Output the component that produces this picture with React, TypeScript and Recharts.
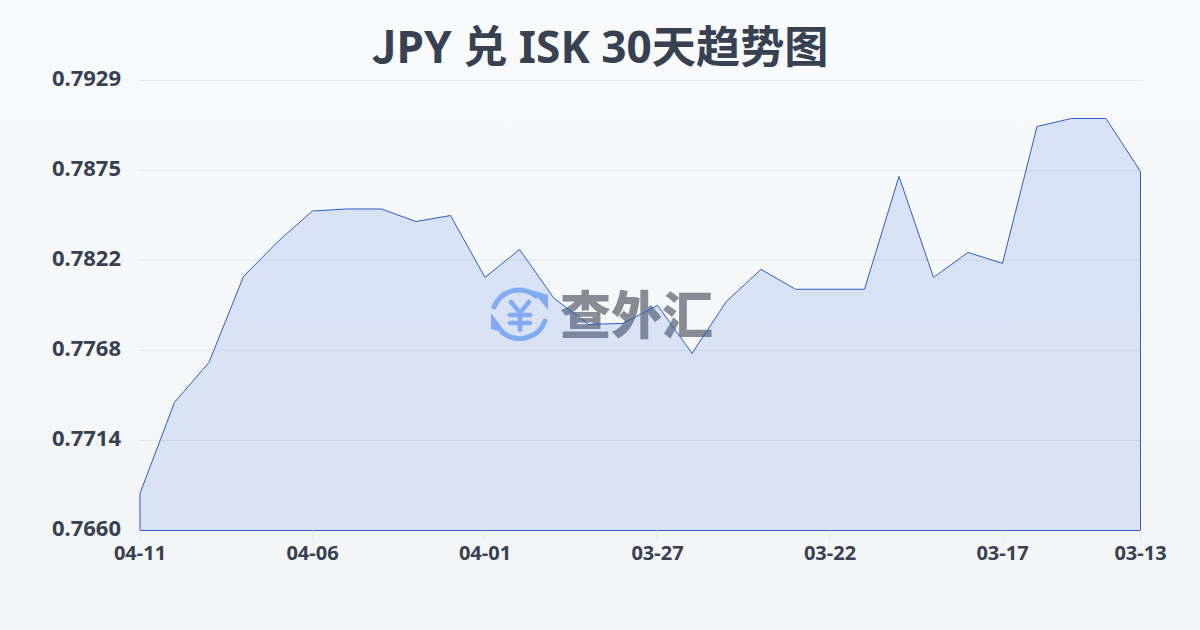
import { AreaChart, Area, XAxis, YAxis, CartesianGrid, ReferenceLine } from 'recharts';

const dates = [
  '04-11', '04-10', '04-09', '04-08', '04-07', '04-06', '04-05', '04-04', '04-03', '04-02',
  '04-01', '03-31', '03-30', '03-29', '03-28', '03-27', '03-26', '03-25', '03-24', '03-23',
  '03-22', '03-21', '03-20', '03-19', '03-18', '03-17', '03-16', '03-15', '03-14', '03-13',
];
const rates = [
  0.76822, 0.77366, 0.77605, 0.78119, 0.78328, 0.7851, 0.78522, 0.78522, 0.78447, 0.78483,
  0.78113, 0.7828, 0.77988, 0.77832, 0.77838, 0.77946, 0.77659, 0.77970, 0.78161, 0.78042,
  0.78042, 0.78042, 0.78717, 0.78113, 0.78262, 0.78197, 0.79015, 0.79063, 0.79063, 0.78746,
];
const xTicks = ['04-11', '04-06', '04-01', '03-27', '03-22', '03-17', '03-13'];
const yTicks = [0.766, 0.77138, 0.77676, 0.78216, 0.78752, 0.7929];

const data = dates.map((date, i) => ({ date, rate: rates[i] }));
const first = data[0];
const last = data[data.length - 1];
const lineColor = '#2b5fc7';

function Watermark() {
  return (
    <div style={{ position: 'absolute', left: 488, top: 283, width: 230, height: 64 }}>
      <svg width={64} height={64} style={{ position: 'absolute', left: 0, top: 0 }}>
        <g fill="none" stroke="#8fb6f5" strokeWidth={5} strokeLinecap="round">
          <path d="M6 24 A27 27 0 0 1 48 13" />
          <path d="M57 38 A27 27 0 0 1 14 49" />
          <path d="M23 19 L32 30 L41 19 M32 30 V47 M22 32 H42 M22 40 H42" strokeWidth={4.5} />
        </g>
        <path d="M44 7 L60 12 L60 27 Z" fill="#8fb6f5" />
        <path d="M3 30 L3 46 L18 50 Z" fill="#8fb6f5" />
      </svg>
      <div
        style={{
          position: 'absolute',
          left: 72,
          top: -7,
          fontFamily: '"Noto Sans CJK SC", sans-serif',
          fontWeight: 900,
          fontSize: 51,
          lineHeight: '72px',
          color: '#898c94',
          whiteSpace: 'nowrap',
        }}
      >
        查外汇
      </div>
    </div>
  );
}

export default function App() {
  return (
    <div
      style={{
        position: 'fixed',
        left: 0,
        top: 0,
        width: 1200,
        height: 630,
        overflow: 'hidden',
        background: 'linear-gradient(180deg, #f9fafc 0%, #f3f4f6 100%)',
        fontFamily: '"Noto Sans", "Noto Sans CJK SC", sans-serif',
      }}
    >
      <div
        style={{
          position: 'absolute',
          left: 0,
          top: 12,
          width: 1200,
          textAlign: 'center',
          fontSize: 44.2,
          lineHeight: '64px',
          fontWeight: 700,
          color: '#374151',
        }}
      >
        <span style={{ fontFamily: '"Noto Sans CJK SC"' }}>J</span>PY 兑 ISK 30天趋势图
      </div>
      <Watermark />
      <div style={{ position: 'absolute', left: 0, top: 0 }}>
        <AreaChart width={1200} height={630} data={data} margin={{ top: 80.5, right: 59.5, left: 0, bottom: 0 }}>
          <defs>
            <linearGradient id="rateFill" x1="0" y1="0" x2="0" y2="1">
              <stop offset="0%" stopColor="#3b76e0" stopOpacity={0.17} />
              <stop offset="100%" stopColor="#3560d0" stopOpacity={0.13} />
            </linearGradient>
          </defs>
          <CartesianGrid stroke="#e5e7eb" vertical={false} />
          <XAxis
            dataKey="date"
            ticks={xTicks}
            interval={0}
            height={99.5}
            axisLine={false}
            tickLine={{ stroke: '#e5e7eb' }}
            tickSize={10}
            tickMargin={5}
            tick={{ fill: '#374151', fontSize: 20, fontWeight: 700 }}
          />
          <YAxis
            type="number"
            domain={[0.766, 0.7929]}
            ticks={yTicks}
            interval={0}
            width={140}
            axisLine={false}
            tickLine={false}
            tickMargin={13}
            tickFormatter={(v: number) => v.toFixed(4)}
            tick={{ fill: '#374151', fontSize: 22, fontWeight: 700, dy: -2 }}
          />
          <Area
            type="linear"
            dataKey="rate"
            stroke={lineColor}
            strokeWidth={1}
            fill="url(#rateFill)"
            fillOpacity={1}
            dot={false}
            activeDot={false}
            isAnimationActive={false}
          />
          <ReferenceLine y={0.766} stroke={lineColor} strokeWidth={1} />
          <ReferenceLine segment={[{ x: first.date, y: 0.766 }, { x: first.date, y: first.rate }]} stroke={lineColor} strokeWidth={1} />
          <ReferenceLine segment={[{ x: last.date, y: 0.766 }, { x: last.date, y: last.rate }]} stroke={lineColor} strokeWidth={1} />
        </AreaChart>
      </div>
    </div>
  );
}
